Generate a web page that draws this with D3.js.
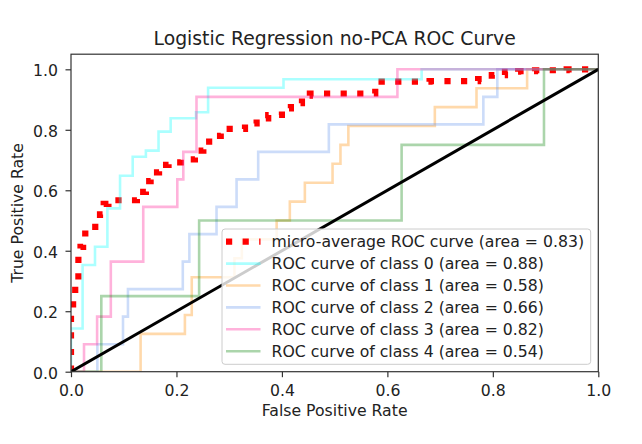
<!DOCTYPE html>
<html>
<head>
<meta charset="utf-8">
<script src="https://cdn.jsdelivr.net/npm/d3@7"></script>
<style>
  body { margin: 0; background: #fff; }
  svg text { font-family: "DejaVu Sans", sans-serif; fill: #222; }
</style>
</head>
<body>
<svg id="chart" width="642" height="444"></svg>
<script>
// ROC points, as steps (x = end of each flat run, y = its level)
const microFpr = [0, 0, 0.004, 0.008, 0.014, 0.018, 0.023, 0.027, 0.036, 0.055, 0.062, 0.071, 0.125, 0.142, 0.151, 0.167, 0.185, 0.208, 0.235, 0.251, 0.262, 0.284, 0.33, 0.352, 0.374, 0.40, 0.417, 0.438, 0.453, 0.577, 0.589, 0.68, 0.772, 0.798, 0.823, 0.848, 0.88, 0.94, 1];
const microTpr = [0, 0.16, 0.21, 0.25, 0.29, 0.385, 0.413, 0.435, 0.457, 0.479, 0.52, 0.555, 0.567, 0.595, 0.63, 0.659, 0.684, 0.692, 0.702, 0.731, 0.761, 0.780, 0.803, 0.821, 0.838, 0.849, 0.871, 0.888, 0.913, 0.92, 0.948, 0.959, 0.961, 0.968, 0.981, 0.992, 0.994, 0.997, 1.0];

const fpr0 = [0, 0.022, 0.0455, 0.069, 0.093, 0.117, 0.142, 0.166, 0.189, 0.237, 0.260, 0.403, 0.665, 1];
const tpr0 = [0, 0.143, 0.353, 0.413, 0.540, 0.648, 0.711, 0.731, 0.794, 0.838, 0.858, 0.939, 0.967, 1];

const fpr1 = [0, 0.132, 0.216, 0.229, 0.31, 0.324, 0.39, 0.415, 0.4435, 0.496, 0.511, 0.526, 0.69, 0.769, 0.865, 1];
const tpr1 = [0, 0, 0.125, 0.1875, 0.3125, 0.375, 0.4375, 0.5, 0.5625, 0.625, 0.6875, 0.75, 0.8125, 0.875, 0.9375, 1];

const fpr2 = [0, 0.050, 0.0986, 0.108, 0.212, 0.2245, 0.276, 0.314, 0.355, 0.489, 0.782, 0.8085, 1];
const tpr2 = [0, 0, 0.091, 0.182, 0.273, 0.364, 0.455, 0.545, 0.636, 0.727, 0.818, 0.909, 1];

const fpr3 = [0, 0.0247, 0.0495, 0.0755, 0.137, 0.2016, 0.213, 0.238, 0.619, 1];
const tpr3 = [0, 0, 0.091, 0.182, 0.364, 0.545, 0.636, 0.727, 0.909, 1];

const fpr4 = [0, 0.0575, 0.243, 0.627, 0.897, 1];
const tpr4 = [0, 0, 0.25, 0.5, 0.75, 1];

const classAreas = [0.88, 0.58, 0.66, 0.82, 0.54];
const classColors = ["aqua", "darkorange", "cornflowerblue", "deeppink", "green"];
const microArea = 0.83;
const ticks = [0, 0.2, 0.4, 0.6, 0.8, 1.0];

const svg = d3.select("#chart");
const box = { left: 71, right: 598.3, top: 54.2, bottom: 371.7 };

const x = d3.scaleLinear().domain([0, 1]).range([box.left, box.right]);
const y = d3.scaleLinear().domain([0, 1.05]).range([box.bottom, box.top]);

svg.append("defs").append("clipPath").attr("id", "plot-clip")
  .append("rect")
  .attr("x", box.left).attr("y", box.top)
  .attr("width", box.right - box.left).attr("height", box.bottom - box.top);

const plot = svg.append("g").attr("clip-path", "url(#plot-clip)");

const line = d3.line()
  .x(d => x(d[0]))
  .y(d => y(d[1]))
  .curve(d3.curveStepBefore);

// micro-average, thick red dotted
plot.append("path")
  .datum(d3.zip(microFpr, microTpr))
  .attr("d", line)
  .attr("fill", "none")
  .attr("stroke", "red")
  .attr("stroke-width", 6.2)
  .attr("stroke-dasharray", "6.2,10.4");

// one curve per class
const classes = [[fpr0, tpr0], [fpr1, tpr1], [fpr2, tpr2], [fpr3, tpr3], [fpr4, tpr4]];
classes.forEach(([f, t], i) => {
  plot.append("path")
    .datum(d3.zip(f, t))
    .attr("d", line)
    .attr("fill", "none")
    .attr("stroke", classColors[i])
    .attr("stroke-opacity", 0.33)
    .attr("stroke-width", 2.6);
});

// chance diagonal
plot.append("path")
  .datum([[0, 0], [1, 1]])
  .attr("d", d3.line().x(d => x(d[0])).y(d => y(d[1])))
  .attr("stroke", "#000")
  .attr("stroke-width", 3);

// axes
const xAxis = svg.append("g")
  .attr("transform", `translate(0,${box.bottom})`)
  .call(d3.axisBottom(x).tickValues(ticks).tickFormat(d3.format(".1f"))
    .tickSize(5.5).tickPadding(7.5).tickSizeOuter(0));
const yAxis = svg.append("g")
  .attr("transform", `translate(${box.left},0)`)
  .call(d3.axisLeft(y).tickValues(ticks).tickFormat(d3.format(".1f"))
    .tickSize(5.5).tickPadding(7.5).tickSizeOuter(0));

[xAxis, yAxis].forEach(g => {
  g.select(".domain").remove();
  g.selectAll(".tick line").attr("stroke", "#333").attr("stroke-width", 1.2);
  g.selectAll(".tick text").style("font-size", "15.7px").attr("fill", "#222");
});
yAxis.selectAll(".tick text").attr("dy", "0.42em");

// spines
svg.append("rect")
  .attr("x", box.left).attr("y", box.top)
  .attr("width", box.right - box.left).attr("height", box.bottom - box.top)
  .attr("fill", "none")
  .attr("stroke", "#333")
  .attr("stroke-width", 1.2);

// title and axis labels
svg.append("text")
  .attr("x", (box.left + box.right) / 2)
  .attr("y", 45)
  .attr("text-anchor", "middle")
  .style("font-size", "18.8px")
  .text("Logistic Regression no-PCA ROC Curve");

svg.append("text")
  .attr("x", (box.left + box.right) / 2)
  .attr("y", 416)
  .attr("text-anchor", "middle")
  .style("font-size", "15.7px")
  .text("False Positive Rate");

svg.append("text")
  .attr("transform", `translate(23,${(box.top + box.bottom) / 2}) rotate(-90)`)
  .attr("text-anchor", "middle")
  .style("font-size", "15.7px")
  .text("True Positive Rate");

// legend
const legend = svg.append("g").attr("transform", "translate(222,229)");
legend.append("rect")
  .attr("width", 368.7).attr("height", 135.3)
  .attr("rx", 3)
  .attr("fill", "#fff").attr("fill-opacity", 0.8)
  .attr("stroke", "#ccc").attr("stroke-width", 1);

const legendItems = [
  { label: `micro-average ROC curve (area = ${microArea.toFixed(2)})`, color: "red", micro: true }
].concat(classAreas.map((a, i) => ({
  label: `ROC curve of class ${i} (area = ${a.toFixed(2)})`,
  color: classColors[i],
  micro: false
})));

const row = legend.selectAll("g.item")
  .data(legendItems)
  .join("g")
  .attr("class", "item")
  .attr("transform", (d, i) => `translate(0,${12.7 + i * 21.9})`);

row.append("line")
  .attr("x1", 4).attr("x2", 38.5)
  .attr("stroke", d => d.color)
  .attr("stroke-width", d => d.micro ? 6.2 : 2.6)
  .attr("stroke-opacity", d => d.micro ? 1 : 0.33)
  .attr("stroke-dasharray", d => d.micro ? "6.2,10.4" : null);

row.append("text")
  .attr("x", 49.5)
  .attr("dy", "0.36em")
  .style("font-size", "15.7px")
  .text(d => d.label);
</script>
</body>
</html>
